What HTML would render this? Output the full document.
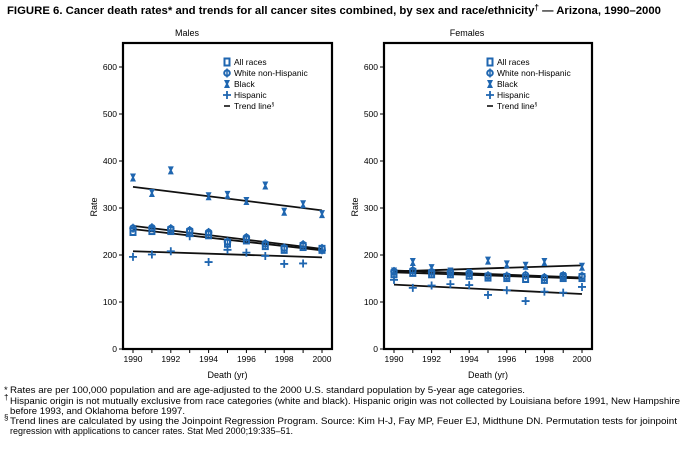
<!DOCTYPE html>
<html><head><meta charset="utf-8"><style>
html,body{margin:0;padding:0;background:#fff;width:686px;height:451px;overflow:hidden}
svg{display:block;font-family:"Liberation Sans",Arial,sans-serif}
</style></head><body>
<svg id="s" width="686" height="451" viewBox="0 0 686 451">
<text x="7" y="14" font-size="11" font-weight="bold" fill="#000" textLength="654" lengthAdjust="spacingAndGlyphs">FIGURE 6. Cancer death rates* and trends for all cancer sites combined, by sex and race/ethnicity<tspan font-size="8" dy="-4">†</tspan><tspan dy="4"> — Arizona, 1990–2000</tspan></text>
<text x="187" y="36" font-size="9" text-anchor="middle">Males</text>
<text x="467" y="36" font-size="9" text-anchor="middle">Females</text>
<g font-size="9.5" fill="#000">
<text x="4" y="393">*</text><text x="10" y="393" textLength="515" lengthAdjust="spacingAndGlyphs">Rates are per 100,000 population and are age-adjusted to the 2000 U.S. standard population by 5-year age categories.</text>
<text x="4" y="400" font-size="8">†</text><text x="10" y="404" textLength="670" lengthAdjust="spacingAndGlyphs">Hispanic origin is not mutually exclusive from race categories (white and black). Hispanic origin was not collected by Louisiana before 1991, New Hampshire</text>
<text x="10" y="414" textLength="175" lengthAdjust="spacingAndGlyphs">before 1993, and Oklahoma before 1997.</text>
<text x="4" y="420" font-size="8">§</text><text x="10" y="424" textLength="667" lengthAdjust="spacingAndGlyphs">Trend lines are calculated by using the Joinpoint Regression Program. Source: Kim H-J, Fay MP, Feuer EJ, Midthune DN. Permutation tests for joinpoint</text>
<text x="10" y="434" textLength="283" lengthAdjust="spacingAndGlyphs">regression with applications to cancer rates. Stat Med 2000;19:335–51.</text>
</g>
<g id="g"></g>
</svg>
<script>
var g=document.getElementById('g'),h='',B='#1f66b0';
function Y(v){return 349-v*0.47;}
function panel(L,R,rateX,legX,data,trends){
 h+='<rect x="'+L+'" y="43" width="'+(R-L)+'" height="306" fill="none" stroke="#000" stroke-width="2.2"/>';
 for(var v=0;v<=600;v+=100){var y=Y(v);h+='<line x1="'+(L-4)+'" x2="'+L+'" y1="'+y+'" y2="'+y+'" stroke="#000"/><text x="'+(L-6)+'" y="'+(y+3)+'" font-size="8.5" text-anchor="end">'+v+'</text>';}
 var X=function(yr){return L+10+(yr-1990)*(R-L-20)/10;};
 for(var yr=1990;yr<=2000;yr++){var x=X(yr);h+='<line x1="'+x+'" x2="'+x+'" y1="349" y2="353" stroke="#000"/>';if(yr%2==0)h+='<text x="'+x+'" y="362" font-size="8.5" text-anchor="middle">'+yr+'</text>';}
 h+='<text x="'+((L+R)/2)+'" y="378" font-size="9" text-anchor="middle">Death (yr)</text>';
 h+='<text transform="translate('+rateX+',207) rotate(-90)" font-size="9" text-anchor="middle">Rate</text>';
 trends.forEach(function(t){h+='<line x1="'+X(1990)+'" y1="'+Y(t[0])+'" x2="'+X(2000)+'" y2="'+Y(t[1])+'" stroke="#111" stroke-width="1.8"/>';});
 data.forEach(function(s){s.v.forEach(function(v,i){if(v==null)return;h+=mk(s.t,X(1990+i),Y(v));});});
 var labs=[['a','All races'],['w','White non-Hispanic'],['b','Black'],['h','Hispanic'],['t','Trend line']];
 labs.forEach(function(l,i){var y=62+i*11;h+=(l[0]=='t'?'<line x1="'+(legX-3)+'" x2="'+(legX+3)+'" y1="'+y+'" y2="'+y+'" stroke="#000" stroke-width="1.5"/>':mk(l[0],legX,y))+'<text x="'+(legX+7)+'" y="'+(y+3)+'" font-size="8.5">'+l[1]+(l[0]=='t'?'<tspan font-size="5" dy="-3">§</tspan>':'')+'</text>';});
}
function mk(t,x,y){
 if(t=='a')return '<rect x="'+(x-2.5)+'" y="'+(y-3.5)+'" width="5" height="7" fill="none" stroke="'+B+'" stroke-width="2"/>';
 if(t=='w')return '<circle cx="'+x+'" cy="'+y+'" r="2.8" fill="none" stroke="'+B+'" stroke-width="2"/><line x1="'+x+'" x2="'+x+'" y1="'+(y-4.5)+'" y2="'+(y+4.5)+'" stroke="'+B+'" stroke-width="1.5"/>';
 if(t=='b')return '<path d="M'+(x-3)+' '+(y-4)+'h6l-2 4 2 4h-6l2-4z" fill="'+B+'"/>';
 if(t=='h')return '<path d="M'+(x-4)+' '+y+'h8M'+x+' '+(y-4)+'v8" stroke="'+B+'" stroke-width="1.8"/>';
}
panel(123,332,97,227,[
 {t:'h',v:[196,201,208,240,185,211,205,198,181,182,210]},
 {t:'a',v:[250,252,252,248,243,225,232,220,212,218,212]},
 {t:'w',v:[257,258,256,252,248,228,237,224,215,222,214]},
 {t:'b',v:[365,332,380,null,325,328,315,348,292,308,287]}
],[[345,295],[262,213],[255,210],[208,195]]);
panel(384,592,358,490,[
 {t:'h',v:[147,130,135,138,136,115,125,102,122,120,132]},
 {t:'a',v:[160,163,160,160,157,153,152,150,148,152,152]},
 {t:'w',v:[165,167,164,163,161,156,155,157,152,156,155]},
 {t:'b',v:[165,185,172,165,162,188,180,177,185,155,175]}
],[[165,178],[167,152],[163,150],[137,117]]);
g.innerHTML=h;
</script>
</body></html>
